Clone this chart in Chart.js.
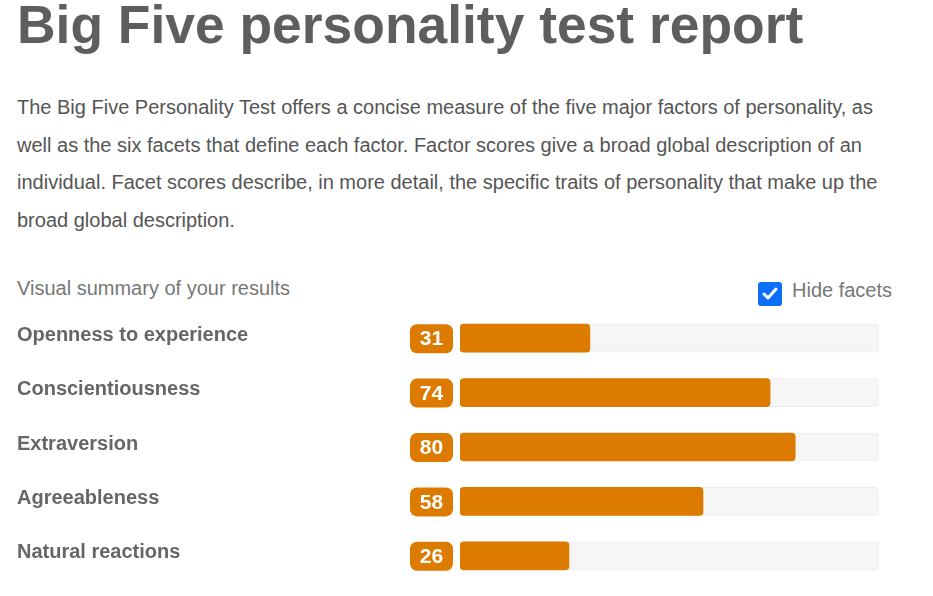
<!DOCTYPE html>
<html>
<head>
<meta charset="utf-8">
<script src="https://cdn.jsdelivr.net/npm/chart.js@4"></script>
<style>
  html, body { margin: 0; padding: 0; background: #fff; width: 933px; height: 596px; overflow: hidden; }
  body { font-family: "Liberation Sans", Arial, sans-serif; position: relative; }
  h1 { position: absolute; left: 17px; top: -6px; margin: 0; font-size: 53.4px; font-weight: bold; color: #5e5e5e; white-space: nowrap; }
  p.intro { position: absolute; left: 17px; top: 89px; margin: 0; font-size: 20px; line-height: 37.7px; color: #555; white-space: nowrap; }
  .summary { position: absolute; left: 17px; top: 277px; font-size: 20px; color: #777; }
  .hide { position: absolute; left: 758px; top: 282px; font-size: 20px; color: #777; display: flex; align-items: center; }
  .box { width: 24px; height: 24px; background: #0b6ff7; border-radius: 3px; margin-right: 10px; display: flex; align-items: center; justify-content: center; }
  #wrap { position: absolute; left: 0; top: 311px; width: 933px; height: 272px; }
</style>
</head>
<body>
<h1>Big Five personality test report</h1>
<p class="intro">The Big Five Personality Test offers a concise measure of the five major factors of personality, as<br>well as the six facets that define each factor. Factor scores give a broad global description of an<br>individual. Facet scores describe, in more detail, the specific traits of personality that make up the<br>broad global description.</p>
<div class="summary">Visual summary of your results</div>
<div class="hide"><div class="box"><svg width="16" height="14" viewBox="0 0 16 14"><path d="M2 7 L6 11 L14 2" stroke="#fff" stroke-width="3" fill="none" stroke-linecap="round" stroke-linejoin="round"/></svg></div><span style="margin-top:-7px">Hide facets</span></div>
<div id="wrap"><canvas id="c"></canvas></div>
<script>
const factors = ["Openness to experience", "Conscientiousness", "Extraversion", "Agreeableness", "Natural reactions"];
const scores = [31, 74, 80, 58, 26];
const maxScore = 100;
const trackValues = factors.map(() => maxScore);

const badgePlugin = {
  id: 'badges',
  afterDatasetsDraw(chart) {
    const ctx = chart.ctx;
    const yScale = chart.scales.y;
    const left = chart.chartArea.left;
    ctx.save();
    scores.forEach((v, i) => {
      const yc = yScale.getPixelForValue(i);
      const w = 43, h = 29;
      const x = left - 50, y = yc - 14;
      ctx.fillStyle = '#dd7a00';
      ctx.beginPath();
      ctx.roundRect(x, y, w, h, 7);
      ctx.fill();
      ctx.fillStyle = '#fff';
      ctx.font = 'bold 21px "Liberation Sans", Arial, sans-serif';
      ctx.textAlign = 'center';
      ctx.textBaseline = 'middle';
      ctx.fillText(String(v), x + w / 2, y + h / 2 + 1);
    });
    ctx.restore();
  }
};

new Chart(document.getElementById('c'), {
  type: 'bar',
  data: {
    labels: factors,
    datasets: [
      { data: scores, backgroundColor: '#dd7a00', borderRadius: 4, borderSkipped: false, barThickness: 28, grouped: false, order: 1 },
      { data: trackValues, backgroundColor: '#f6f6f6', borderColor: '#ececec', borderWidth: 1, borderRadius: 4, borderSkipped: false, barThickness: 28, grouped: false, order: 2 }
    ]
  },
  options: {
    indexAxis: 'y',
    responsive: true,
    maintainAspectRatio: false,
    animation: false,
    layout: { padding: { left: 17, right: 54, top: 0, bottom: 0 } },
    plugins: { legend: { display: false }, tooltip: { enabled: false } },
    scales: {
      x: { display: false, min: 0, max: maxScore },
      y: {
        grid: { display: false, drawTicks: false },
        border: { display: false },
        ticks: {
          crossAlign: 'far',
          padding: 0,
          labelOffset: -3,
          color: '#666',
          font: { family: '"Liberation Sans", Arial, sans-serif', size: 20, weight: 'bold' }
        },
        afterFit(scale) { scale.width = 443; scale.paddingTop = 0; scale.paddingBottom = 0; }
      }
    }
  },
  plugins: [badgePlugin]
});
</script>
</body>
</html>
